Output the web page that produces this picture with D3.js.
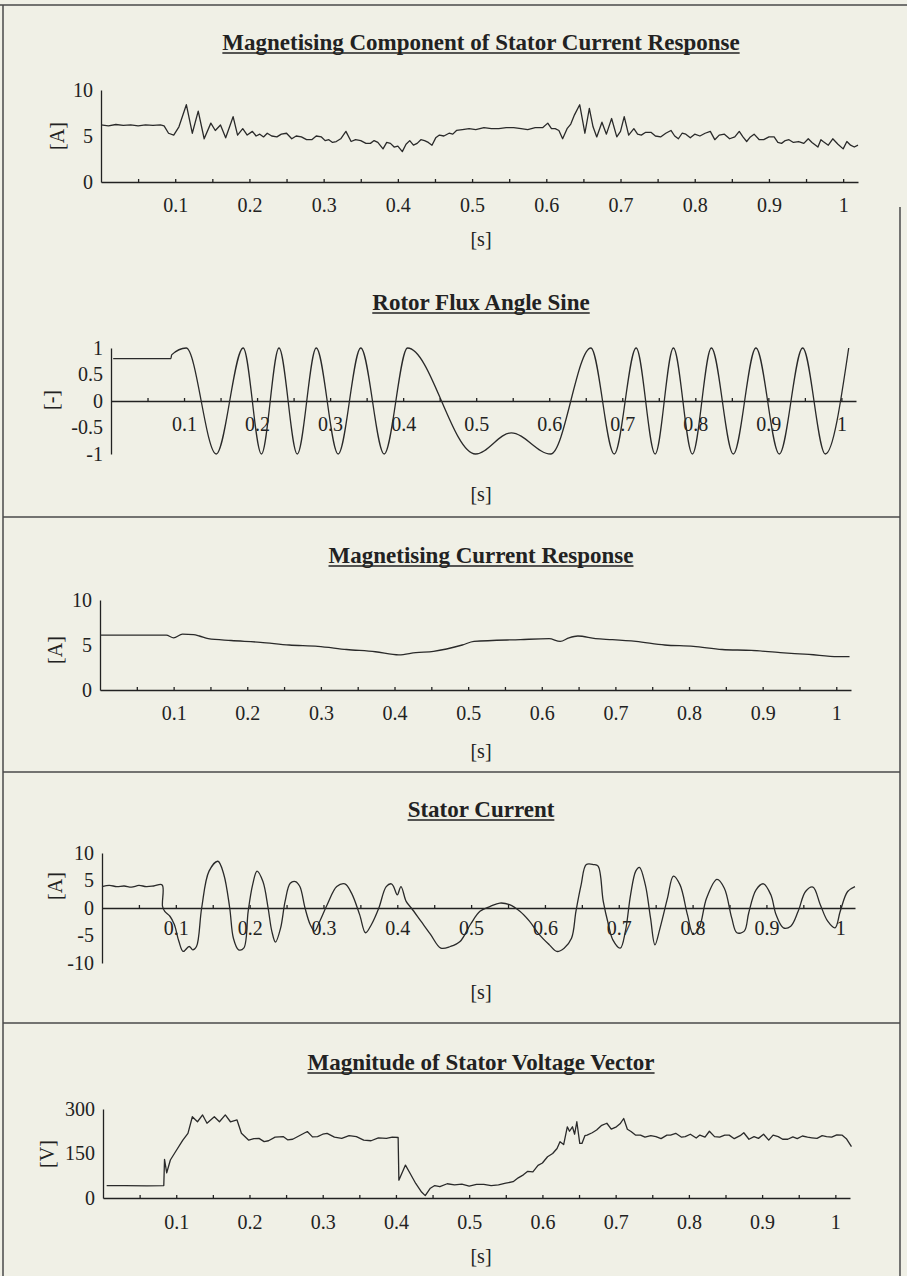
<!DOCTYPE html>
<html>
<head>
<meta charset="utf-8">
<script src="https://cdn.jsdelivr.net/npm/d3@7/dist/d3.min.js"></script>
<style>
  body { margin: 0; background: #f0f0e6; }
  svg { display: block; font-family: "Liberation Serif", "Times New Roman", serif; }
</style>
</head>
<body>
<div id="page"></div>
<script>
// Titles and axis labels
var titles = [
    "Magnetising Component of Stator Current Response",
    "Rotor Flux Angle Sine",
    "Magnetising Current Response",
    "Stator Current",
    "Magnitude of Stator Voltage Vector"
];
var yUnits = ["[A]", "[-]", "[A]", "[A]", "[V]"];
var xUnit = "[s]";

// x tick labels (seconds)
var xTickValues = [0.1, 0.2, 0.3, 0.4, 0.5, 0.6, 0.7, 0.8, 0.9, 1];
var xTickLabels = ["0.1", "0.2", "0.3", "0.4", "0.5", "0.6", "0.7", "0.8", "0.9", "1"];
var xMinorTicks = [0.05, 0.1, 0.15, 0.2, 0.25, 0.3, 0.35, 0.4, 0.45, 0.5, 0.55, 0.6, 0.65, 0.7, 0.75, 0.8, 0.85, 0.9, 0.95, 1];

// y ticks for each chart
var magCompTicks = [0, 5, 10];
var sineTicks = [-1, -0.5, 0, 0.5, 1];
var magCurTicks = [0, 5, 10];
var statorTicks = [-10, -5, 0, 5, 10];
var voltTicks = [0, 150, 300];

// Magnetising component of stator current [t (s), A]
var magCompData = [
    [0,6.2],[0.01,6.1],[0.02,6.25],[0.03,6.15],[0.04,6.2],[0.05,6.1],[0.06,6.2],[0.07,6.15],[0.08,6.2],[0.085,6.1],
    [0.091,5.3],[0.098,5.1],[0.105,6.0],[0.115,8.4],[0.123,5.3],[0.131,7.7],[0.139,4.7],[0.148,6.4],[0.154,5.6],
    [0.161,6.2],[0.168,4.8],[0.178,7.1],[0.184,5.1],[0.191,5.8],[0.197,5.1],[0.204,5.5],[0.209,5.0],[0.214,5.2],
    [0.219,4.9],[0.224,5.3],[0.230,5.0],[0.237,4.9],[0.243,5.2],[0.250,5.3],[0.257,4.7],[0.263,5.0],[0.270,4.9],
    [0.277,4.6],[0.284,4.6],[0.290,5.0],[0.297,4.9],[0.302,4.5],[0.307,4.6],[0.312,4.3],[0.317,4.4],[0.323,4.7],
    [0.330,5.5],[0.337,4.4],[0.343,4.6],[0.350,4.5],[0.357,4.2],[0.363,4.2],[0.368,4.5],[0.373,4.3],[0.380,3.6],
    [0.385,4.3],[0.390,4.2],[0.395,3.8],[0.400,3.9],[0.406,3.3],[0.411,4.1],[0.416,4.5],[0.421,4.0],[0.426,4.2],
    [0.431,4.6],[0.436,4.5],[0.441,4.3],[0.446,4.0],[0.451,4.8],[0.456,5.1],[0.462,5.0],[0.469,5.3],[0.474,5.2],
    [0.479,5.6],[0.487,5.7],[0.496,5.8],[0.505,5.7],[0.516,5.9],[0.526,5.8],[0.536,5.8],[0.546,5.9],[0.556,5.9],
    [0.566,5.8],[0.575,5.7],[0.585,5.9],[0.595,5.9],[0.602,6.4],[0.607,5.8],[0.612,5.8],[0.617,5.6],[0.622,4.7],
    [0.628,5.8],[0.633,6.3],[0.638,7.3],[0.645,8.4],[0.652,5.3],[0.658,8.0],[0.663,6.0],[0.668,4.9],[0.675,6.5],
    [0.681,5.2],[0.688,6.9],[0.695,4.9],[0.700,5.5],[0.705,7.1],[0.711,5.1],[0.718,5.8],[0.723,5.2],[0.728,5.1],
    [0.734,5.4],[0.741,5.4],[0.747,5.0],[0.754,4.9],[0.761,5.3],[0.768,5.6],[0.773,5.0],[0.778,4.7],[0.783,5.3],
    [0.788,5.2],[0.794,4.8],[0.800,5.2],[0.807,5.0],[0.814,5.3],[0.821,5.5],[0.827,4.6],[0.833,5.1],[0.840,5.2],
    [0.847,4.7],[0.854,4.9],[0.860,5.5],[0.865,4.9],[0.870,4.4],[0.875,4.9],[0.880,5.2],[0.887,4.6],[0.893,4.6],
    [0.900,4.9],[0.907,4.9],[0.912,4.3],[0.917,4.2],[0.922,4.5],[0.927,4.6],[0.933,4.3],[0.940,4.4],[0.947,4.2],
    [0.953,4.7],[0.958,4.3],[0.966,3.8],[0.970,4.6],[0.973,4.4],[0.980,4.0],[0.986,4.7],[0.993,4.1],[1.000,3.6],
    [1.005,4.4],[1.010,4.0],[1.015,3.8],[1.020,4.0]
];

// Rotor flux angle sine: flat start, then peaks and troughs
var sineData = [
    [0.003,0.8],[0.082,0.8],[0.083,0.87],[0.103,1],[0.144,-1],[0.181,1],[0.206,-1],[0.230,1],[0.255,-1],
    [0.281,1],[0.311,-1],[0.342,1],[0.374,-1],[0.406,1],[0.499,-1],[0.548,-0.6],[0.602,-1],[0.657,1],
    [0.689,-1],[0.719,1],[0.745,-1],[0.770,1],[0.796,-1],[0.822,1],[0.852,-1],[0.883,1],[0.915,-1],
    [0.947,1],[0.978,-1],[1.010,1]
];

// Magnetising current response [t (s), A]
var magCurData = [
    [0,6.1],[0.090,6.1],[0.100,5.8],[0.112,6.2],[0.127,6.15],[0.135,6.0],[0.147,5.7],[0.178,5.5],
    [0.218,5.3],[0.257,5.0],[0.296,4.85],[0.335,4.5],[0.374,4.25],[0.406,3.9],[0.429,4.15],[0.453,4.3],
    [0.492,5.0],[0.508,5.4],[0.571,5.6],[0.610,5.7],[0.625,5.4],[0.637,5.8],[0.649,6.0],[0.673,5.7],
    [0.696,5.6],[0.728,5.4],[0.767,5.0],[0.806,4.85],[0.845,4.5],[0.885,4.4],[0.924,4.15],[0.963,3.95],
    [1.002,3.7],[1.018,3.7]
];

// Stator current [t (s), A]
var statorData = [
    [0,3.9],[0.01,4.1],[0.02,3.9],[0.03,4.0],[0.04,3.8],[0.05,4.1],[0.06,3.9],[0.07,4.0],[0.0815,4.2],
    [0.082,0.3],[0.085,-0.6],[0.092,-1.5],[0.098,-3.0],[0.104,-6.0],[0.110,-7.9],[0.118,-7.0],[0.123,-7.6],
    [0.128,-7.0],[0.135,0],[0.145,6.7],[0.157,8.5],[0.165,6.1],[0.173,0],[0.178,-5.5],[0.185,-7.6],
    [0.192,-7.3],[0.198,-0.6],[0.204,4.2],[0.210,6.7],[0.218,4.8],[0.225,0],[0.230,-4.2],[0.235,-6.2],
    [0.242,-3.6],[0.248,1.2],[0.255,4.5],[0.262,4.8],[0.268,3.9],[0.275,0],[0.282,-3.0],[0.288,-4.2],
    [0.295,-2.4],[0.305,0.6],[0.318,3.9],[0.329,4.4],[0.338,2.7],[0.349,-1.2],[0.357,-4.5],[0.365,-3.0],
    [0.375,0],[0.385,3.9],[0.392,4.4],[0.395,3.9],[0.400,2.4],[0.405,3.9],[0.412,1.2],[0.419,0],
    [0.432,-2.4],[0.445,-4.8],[0.459,-7.3],[0.472,-7.0],[0.485,-6.1],[0.499,-3.0],[0.512,-0.6],[0.526,0.3],
    [0.539,0.9],[0.552,0.6],[0.566,-0.6],[0.579,-2.4],[0.592,-4.8],[0.606,-6.7],[0.616,-7.9],[0.626,-7.3],
    [0.636,-5.5],[0.642,-0.6],[0.649,4.2],[0.656,7.9],[0.666,7.9],[0.672,7.6],[0.679,1.2],[0.686,-3.0],
    [0.692,-5.8],[0.702,-7.3],[0.709,-4.2],[0.716,2.4],[0.723,6.7],[0.728,7.4],[0.736,4.2],[0.743,-1.8],
    [0.749,-6.7],[0.756,-3.6],[0.766,1.8],[0.774,5.8],[0.783,4.2],[0.793,-1.2],[0.801,-4.8],[0.809,-3.6],
    [0.819,1.8],[0.833,5.2],[0.843,3.6],[0.853,-1.8],[0.860,-4.5],[0.870,-4.2],[0.876,-0.9],[0.886,3.3],
    [0.896,4.4],[0.906,2.4],[0.913,-1.2],[0.923,-3.6],[0.933,-3.3],[0.943,-0.6],[0.953,3.0],[0.963,3.8],
    [0.973,0.6],[0.983,-2.4],[0.993,-3.6],[1.000,-0.6],[1.010,3.0],[1.020,3.9]
];

// Magnitude of stator voltage vector [t (s), V]
var voltData = [
    [0.005,42],[0.03,42],[0.06,41],[0.083,42],[0.084,130],[0.087,85],[0.092,128],[0.099,156],[0.109,195],
    [0.116,218],[0.122,274],[0.129,257],[0.136,280],[0.142,252],[0.152,274],[0.159,257],[0.167,280],
    [0.174,257],[0.183,263],[0.189,218],[0.199,195],[0.206,200],[0.213,201],[0.220,190],[0.226,193],
    [0.235,205],[0.246,207],[0.252,196],[0.259,198],[0.268,210],[0.279,224],[0.286,206],[0.293,207],
    [0.300,215],[0.306,218],[0.316,205],[0.326,201],[0.336,210],[0.346,207],[0.356,195],[0.366,193],
    [0.376,203],[0.387,201],[0.395,205],[0.403,204],[0.404,60],[0.413,111],[0.420,80],[0.427,49],
    [0.435,20],[0.440,8],[0.447,33],[0.453,42],[0.460,38],[0.470,48],[0.480,44],[0.490,47],[0.500,40],
    [0.510,46],[0.520,46],[0.530,42],[0.540,44],[0.550,50],[0.560,55],[0.567,68],[0.574,78],[0.580,90],
    [0.587,88],[0.594,110],[0.600,118],[0.607,139],[0.614,150],[0.620,167],[0.624,190],[0.629,180],
    [0.634,240],[0.637,225],[0.641,240],[0.644,215],[0.647,257],[0.651,184],[0.654,184],[0.658,210],
    [0.661,212],[0.668,220],[0.674,229],[0.681,245],[0.688,252],[0.694,232],[0.701,240],[0.706,250],
    [0.711,268],[0.716,232],[0.721,224],[0.727,212],[0.734,212],[0.740,205],[0.748,210],[0.755,207],
    [0.762,200],[0.770,212],[0.775,212],[0.782,218],[0.790,205],[0.795,207],[0.802,215],[0.810,202],
    [0.815,212],[0.822,205],[0.828,225],[0.835,207],[0.842,205],[0.849,212],[0.855,212],[0.862,200],
    [0.870,210],[0.875,220],[0.882,198],[0.889,207],[0.895,201],[0.902,215],[0.909,195],[0.915,212],
    [0.922,207],[0.928,198],[0.935,198],[0.942,206],[0.948,200],[0.955,209],[0.962,205],[0.968,203],
    [0.975,201],[0.982,210],[0.988,207],[0.995,205],[1.002,213],[1.009,212],[1.015,200],[1.022,173]
];

//Page size
var svgWidth = 907;
var svgHeight = 1276;
var ink = "#222";

var svg = d3.select("#page")
  .append("svg")
  .attr("width", svgWidth)
  .attr("height", svgHeight);

svg.append("rect")
  .attr("width", svgWidth)
  .attr("height", svgHeight)
  .attr("fill", "#f0f0e6");

//Frame lines of the scanned page
var frame = svg.append("g").attr("stroke", "#4a4a4a").attr("stroke-width", 1.5);
frame.append("line").attr("x1", 0).attr("x2", 907).attr("y1", 5).attr("y2", 5);
frame.append("line").attr("x1", 3).attr("x2", 3).attr("y1", 5).attr("y2", 1276);
frame.append("line").attr("x1", 900).attr("x2", 900).attr("y1", 207).attr("y2", 1276);
[517, 772, 1023].forEach(function(yy) {
    frame.append("line").attr("x1", 3).attr("x2", 900).attr("y1", yy).attr("y2", yy);
});

//Layout of each panel
var panels = [
    {title: titles[0], unit: yUnits[0], data: magCompData, ticks: magCompTicks, curve: d3.curveLinear,
     titleY: 50, x0: 101, xEnd: 858, yDomain: [0, 10], yBot: 182, yTop: 90, labelPad: 16, sY: 246, unitX: 57, unitY: 136},
    {title: titles[1], unit: yUnits[1], data: sineData, ticks: sineTicks, curve: d3.curveMonotoneX,
     titleY: 310, x0: 111, xEnd: 856, yDomain: [-1, 1], yBot: 454, yTop: 348, labelPad: 16, sY: 501, unitX: 51, unitY: 400},
    {title: titles[2], unit: yUnits[2], data: magCurData, ticks: magCurTicks, curve: d3.curveMonotoneX,
     titleY: 563, x0: 100, xEnd: 851, yDomain: [0, 10], yBot: 690, yTop: 600, labelPad: 16, sY: 758, unitX: 55, unitY: 650},
    {title: titles[3], unit: yUnits[3], data: statorData, ticks: statorTicks, curve: d3.curveCatmullRom.alpha(0.5),
     titleY: 817, x0: 102, xEnd: 855, yDomain: [-10, 10], yBot: 963, yTop: 853, labelPad: 13, sY: 999, unitX: 55, unitY: 886},
    {title: titles[4], unit: yUnits[4], data: voltData, ticks: voltTicks, curve: d3.curveLinear,
     titleY: 1070, x0: 103, xEnd: 850, yDomain: [0, 300], yBot: 1198, yTop: 1109, labelPad: 17, sY: 1263, unitX: 47, unitY: 1154}
];

function drawPanel(p) {
    var g = svg.append("g");
    var x = d3.scaleLinear().domain([0, 1.02]).range([p.x0, p.xEnd]);
    var y = d3.scaleLinear().domain(p.yDomain).range([p.yBot, p.yTop]);
    var axisY = y(Math.max(0, p.yDomain[0]));

    //Underlined bold title
    var t = g.append("text")
        .attr("x", 481).attr("y", p.titleY)
        .attr("text-anchor", "middle")
        .attr("font-size", 23).attr("font-weight", "bold")
        .attr("fill", ink)
        .text(p.title);
    var w = t.node().getComputedTextLength();
    g.append("line")
        .attr("x1", 481 - w / 2).attr("x2", 481 + w / 2)
        .attr("y1", p.titleY + 3).attr("y2", p.titleY + 3)
        .attr("stroke", ink).attr("stroke-width", 1.4);

    //y axis, plain hyphen minus like the original
    var yAxis = g.append("g")
        .attr("transform", "translate(" + p.x0 + ",0)")
        .call(d3.axisLeft(y).tickValues(p.ticks).tickSize(0).tickPadding(8).tickSizeOuter(0)
            .tickFormat(function(d) { return String(d); }));

    //x axis line with small ticks
    var xMinor = g.append("g")
        .attr("transform", "translate(0," + axisY + ")")
        .call(d3.axisBottom(x).tickValues(xMinorTicks).tickSize(-3).tickSizeOuter(0).tickFormat(""));

    //x tick labels
    var xAxis = g.append("g")
        .attr("transform", "translate(0," + axisY + ")")
        .call(d3.axisBottom(x).tickValues(xTickValues).tickSize(0).tickPadding(p.labelPad)
            .tickFormat(function(d, i) { return xTickLabels[i]; }));
    xAxis.select(".domain").remove();

    [yAxis, xMinor, xAxis].forEach(function(a) {
        a.selectAll("text").attr("font-size", 20).attr("fill", ink)
            .attr("font-family", "Liberation Serif, Times New Roman, serif");
        a.selectAll("path, line").attr("stroke", ink).attr("stroke-width", 1.3);
    });

    //axis unit labels
    g.append("text")
        .attr("transform", "translate(" + p.unitX + "," + p.unitY + ") rotate(-90)")
        .attr("text-anchor", "middle").attr("dy", "0.35em")
        .attr("font-size", 20).attr("fill", ink)
        .text(p.unit);
    g.append("text")
        .attr("x", 481).attr("y", p.sY)
        .attr("text-anchor", "middle")
        .attr("font-size", 20).attr("fill", ink)
        .text(xUnit);

    //the trace
    var line = d3.line()
        .x(function(d) { return x(d[0]); })
        .y(function(d) { return y(d[1]); })
        .curve(p.curve);
    g.append("path")
        .datum(p.data)
        .attr("d", line)
        .attr("fill", "none")
        .attr("stroke", "#2a2a2a")
        .attr("stroke-width", 1.3)
        .attr("stroke-linejoin", "round");
}

panels.forEach(drawPanel);
</script>
</body>
</html>
